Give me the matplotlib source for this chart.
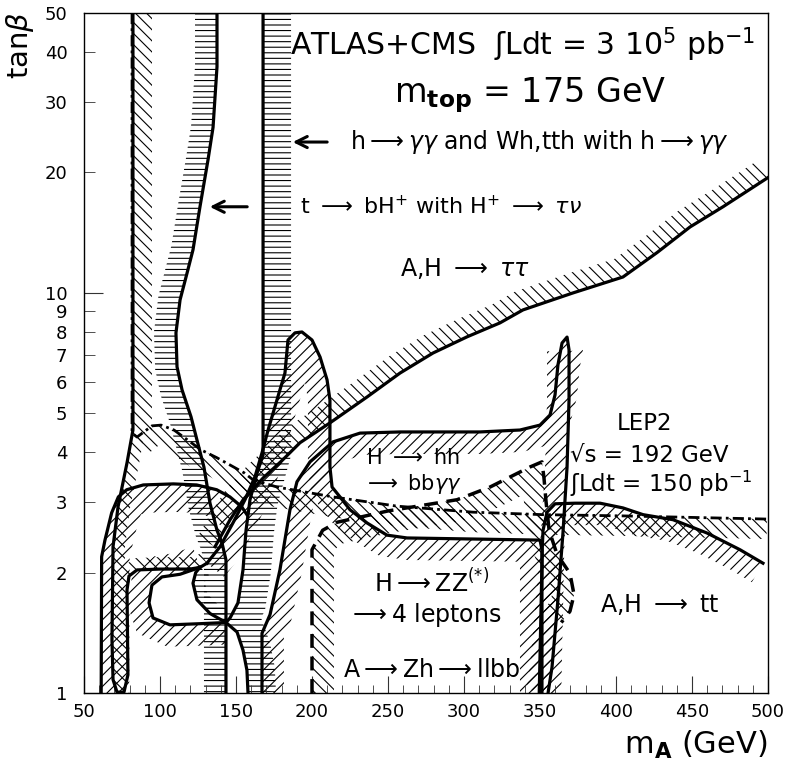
import numpy as np
import matplotlib
matplotlib.use('Agg')
import matplotlib.pyplot as plt

plt.rcParams['hatch.linewidth'] = 0.8
plt.rcParams['font.family'] = ['DejaVu Sans']

# contours: m_A (GeV) and tan(beta)
lep2_m = [81.6, 81.6, 84.9, 94.7, 100.7, 109.2, 127.0, 137.5, 155.3, 161.2, 177.0, 213.8, 255.9, 305.9, 352.0, 404.6, 499.3]
lep2_tb = [50, 4.46, 4.36, 4.65, 4.67, 4.54, 4.05, 3.87, 3.55, 3.41, 3.27, 3.09, 2.93, 2.83, 2.79, 2.77, 2.72]

tbh_m = [137.5, 137.5, 134.9, 131.6, 126.3, 121.7, 117.8, 113.2, 110.5, 111.2, 114.5, 120.4, 124.3, 128.9, 132.9, 137.5, 140.8, 143.4, 143.4]
tbh_tb = [50, 36.7, 25.9, 21.5, 16.4, 12.8, 11.2, 9.6, 7.94, 6.53, 5.72, 4.9, 4.29, 3.67, 2.98, 2.55, 2.37, 2.15, 1.0]

hgg_m = [167.8, 167.8, 164.5, 159.2, 156.6, 154.6, 151.3, 146.1, 143.4, 150.7, 154.6, 157.2, 157.9]
hgg_tb = [50, 3.93, 3.61, 3.04, 2.55, 2.03, 1.68, 1.54, 1.50, 1.42, 1.28, 1.14, 1.0]

zz1_m = [82.2, 82.2, 78.3, 72.4, 69.1, 68.4, 69.1, 71.7, 76.3, 78.9, 78.3, 79.6, 84.9, 100.0, 119.7, 126.3, 130.9]
zz1_tb = [50, 4.54, 3.76, 2.92, 2.32, 1.36, 1.08, 1.005, 1.005, 1.11, 1.81, 1.96, 2.03, 2.04, 2.04, 2.06, 2.11]

zz2_m = [130.9, 139.5, 148.0, 155.9, 162.5, 167.1, 171.1, 178.9, 182.2, 184.2, 188.8, 193.4, 200.0, 205.3,
         209.9, 211.8, 211.8, 213.2, 218.4, 225.0, 236.2, 249.3, 262.5, 350.0, 351.3, 351.3]
zz2_tb = [2.11, 2.32, 2.66, 3.04, 3.47, 3.98, 4.54, 5.72, 6.30, 7.62, 7.94, 7.98, 7.62, 6.91,
          6.06, 5.40, 3.67, 3.27, 3.09, 2.87, 2.66, 2.48, 2.44, 2.41, 2.28, 1.0]

out_m = [61.3, 61.6, 63.8, 68.2, 72.6, 78.1, 89.0, 108.8, 124.1, 137.3, 146.0, 153.7, 157.2]
out_tb = [1.0, 2.19, 2.41, 2.82, 3.09, 3.22, 3.31, 3.33, 3.31, 3.22, 3.09, 2.92, 2.79]

hole_m = [126.3, 113.2, 101.3, 94.7, 92.8, 95.4, 106.6, 126.3, 143.4]
hole_tb = [2.06, 1.98, 1.95, 1.86, 1.68, 1.54, 1.48, 1.49, 1.50]

lens_m = [143.4, 132.9, 124.3, 121.7, 123.5, 126.3]
lens_tb = [1.50, 1.58, 1.71, 1.88, 2.0, 2.06]

tau_m = [136.2, 146.1, 155.0, 168.0, 180.0, 192.1, 211.8, 236.2, 257.9, 279.6, 302.0, 323.7, 338.8,
         371.7, 404.6, 427.0, 448.7, 470.4, 500.0]
tau_tb = [2.32, 2.71, 3.05, 3.45, 3.80, 4.22, 4.73, 5.49, 6.30, 7.07, 7.76, 8.41, 9.06,
          9.99, 10.95, 12.6, 14.6, 16.4, 19.4]

hh_m = [167.1, 167.1, 172.4, 178.9, 185.5, 190.1, 198.7, 213.8, 231.6, 257.9, 310.5, 336.8, 350.0,
        356.6, 359.9, 361.8, 364.5, 367.8, 369.1, 369.1, 367.8, 365.1, 361.8, 357.9, 355.3]
hh_tb = [1.0, 1.41, 1.57, 2.03, 2.87, 3.37, 3.78, 4.24, 4.46, 4.49, 4.49, 4.54, 4.67,
         4.95, 5.56, 6.60, 7.49, 7.75, 7.20, 5.40, 3.67, 2.51, 1.71, 1.16, 1.0]

tt_m = [349.5, 351.5, 352.0, 354.6, 359.9, 373.0, 389.5, 404.6, 417.8, 437.5, 459.9, 481.6, 496.7]
tt_tb = [1.0, 2.3, 2.55, 2.83, 2.97, 2.98, 2.98, 2.90, 2.79, 2.71, 2.51, 2.28, 2.11]

zh_m = [200.0, 200.0, 207.0, 216.4, 250.0, 295.4, 317.1, 343.4, 351.3, 352.6, 354.0, 356.0, 361.2,
        369.7, 372.4, 369.7, 364.0]
zh_tb = [1.0, 2.28, 2.55, 2.67, 2.85, 3.04, 3.27, 3.67, 3.78, 3.45, 3.0, 2.55, 2.22,
         1.99, 1.76, 1.60, 1.50]

x_major = list(range(50, 501, 50))
x_minor = list(range(50, 501, 10))
y_major = [1, 10]
y_minor = [2, 3, 4, 5, 6, 7, 8, 9, 20, 30, 40, 50]

fig = plt.figure(figsize=(7.86, 7.68), dpi=100)
ax = fig.add_axes([84 / 786, 75 / 768, 684 / 786, 680 / 768])
ax.set_yscale('log')
ax.set_xlim(50, 500)
ax.set_ylim(1, 50)


def band(ms, ts, w):
    # strip of width w pixels along a contour, w > 0 on the left-hand side
    p = ax.transData.transform(np.column_stack([ms, ts]))
    d = np.gradient(p, axis=0)
    n = np.column_stack([-d[:, 1], d[:, 0]])
    n /= np.linalg.norm(n, axis=1)[:, None]
    q = p + w * n
    return ax.transData.inverted().transform(np.vstack([p, q[::-1]]))


def hatch(ms, ts, w, pattern):
    poly = band(ms, ts, w)
    ax.fill(poly[:, 0], poly[:, 1], facecolor='none', edgecolor='black',
            linewidth=0, hatch=pattern, zorder=1)


hatch(lep2_m[:2], lep2_tb[:2], 20, '\\\\\\')
hatch(lep2_m[2:], lep2_tb[2:], -20, '\\\\\\')
hatch(tbh_m, tbh_tb, -22, '---')
hatch(hgg_m, hgg_tb, 28, '---')
hatch(zz1_m[1:], zz1_tb[1:], 12, '\\\\\\')
hatch(zz2_m, zz2_tb, -22, '///')
hatch(out_m, out_tb, -28, '///')
hatch(hole_m, hole_tb, -22, '///')
hatch(lens_m, lens_tb, -12, '---')
hatch(tau_m, tau_tb, 20, '\\\\\\')
hatch(hh_m, hh_tb, -22, '///')
hatch(tt_m, tt_tb, -22, '///')
hatch(zh_m, zh_tb, -22, '\\\\\\')

lw = 2.3
ax.plot(lep2_m, lep2_tb, color='black', lw=2.0, ls=(0, (4, 1.5, 1, 1.5)), zorder=3)
for ms, ts in [(tbh_m, tbh_tb), (hgg_m, hgg_tb), (zz1_m, zz1_tb), (zz2_m, zz2_tb),
               (out_m, out_tb), (hole_m, hole_tb), (lens_m, lens_tb), (tau_m, tau_tb),
               (hh_m, hh_tb), (tt_m, tt_tb)]:
    ax.plot(ms, ts, color='black', lw=lw, zorder=3, solid_joinstyle='round')
ax.plot(zh_m, zh_tb, color='black', lw=2.5, ls=(0, (4, 2.5)), zorder=3)

# axes and ticks
ax.set_xticks(x_major)
ax.set_xticks(x_minor, minor=True)
ax.set_yticks(y_major, labels=[str(v) for v in y_major])
ax.set_yticks(y_minor, labels=[str(v) for v in y_minor], minor=True)
ax.tick_params(which='both', direction='in', labelsize=13, color='#333333')
ax.tick_params(axis='x', which='major', length=12, pad=7)
ax.tick_params(axis='x', which='minor', length=6)
ax.tick_params(axis='y', which='major', length=14, pad=12)
ax.tick_params(axis='y', which='minor', length=8, pad=12)
for s in ax.spines.values():
    s.set_linewidth(1.0)

ax.text(1.0, -0.077, r'm$_{\mathbf{A}}$ (GeV)', transform=ax.transAxes, ha='right', va='center', fontsize=22)
fig.text(20 / 786, 1 - 45 / 768, r'tan$\beta$', rotation=90, ha='center', va='center', fontsize=21)

# labels
ax.text(185.5, 41.6, r'ATLAS+CMS  ʃLdt = 3 10$^{5}$ pb$^{-1}$', fontsize=21.5, va='center')
ax.text(254, 31.2, r'm$_{\mathbf{top}}$ = 175 GeV', fontsize=24, va='center')
ax.text(225, 23.8, r'h$\longrightarrow\gamma\gamma$ and Wh,tth with h$\longrightarrow\gamma\gamma$', fontsize=17, va='center')
ax.text(192, 16.4, r't $\longrightarrow$ bH$^{+}$ with H$^{+}$ $\longrightarrow$ $\tau\nu$', fontsize=16, va='center')
ax.text(258, 11.5, r'A,H $\longrightarrow$ $\tau\tau$', fontsize=17, va='center')
ax.text(235.5, 3.86, r'H $\longrightarrow$ hh', fontsize=15, va='center')
ax.text(233.5, 3.33, r'$\longrightarrow$ bb$\gamma\gamma$', fontsize=15, va='center')
ax.text(400.7, 4.70, 'LEP2', fontsize=16.5, va='center')
ax.text(369.7, 3.93, '√s = 192 GeV', fontsize=16.5, va='center')
ax.text(369.7, 3.33, r'ʃLdt = 150 pb$^{-1}$', fontsize=16.5, va='center')
ax.text(241, 1.88, r'H$\longrightarrow$ZZ$^{(*)}$', fontsize=17, va='center')
ax.text(223.7, 1.57, r'$\longrightarrow$4 leptons', fontsize=17, va='center')
ax.text(220.4, 1.14, r'A$\longrightarrow$Zh$\longrightarrow$llbb', fontsize=17, va='center')
ax.text(389.5, 1.66, r'A,H $\longrightarrow$ tt', fontsize=17, va='center')

arrow = dict(arrowstyle='->,head_length=0.8,head_width=0.4', lw=2.2, color='black')
ax.annotate('', xy=(185.5, 23.8), xytext=(211.8, 23.8), arrowprops=arrow)
ax.annotate('', xy=(130.9, 16.4), xytext=(159.2, 16.4), arrowprops=arrow)

fig.savefig('out.png', dpi=100)
